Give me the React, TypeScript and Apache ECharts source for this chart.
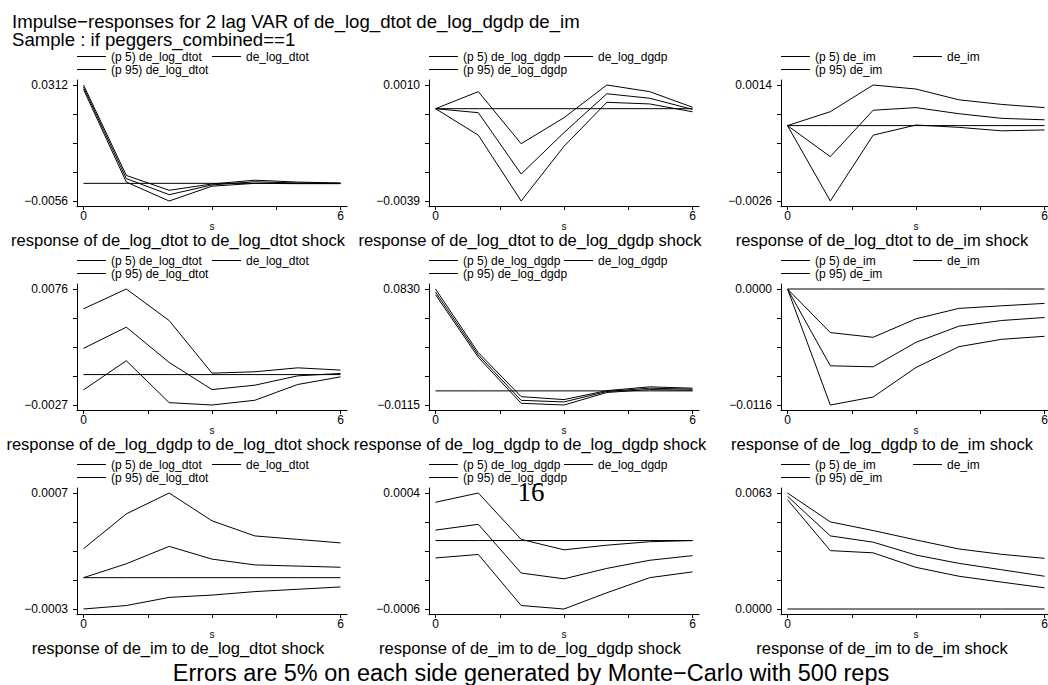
import React, { useEffect, useRef } from "react";
import * as echarts from "echarts";

// ---------- data ----------
const steps = [0, 1, 2, 3, 4, 5, 6];
const xTickValues = [0, 1.5, 3, 4.5, 6];
const xLabelValues = [0, 6];
const variables = ["de_log_dtot", "de_log_dgdp", "de_im"];
const zeroLine = [0, 0, 0, 0, 0, 0, 0];

// response of de_log_dtot to de_log_dtot shock
const dtotDtotLo = [0.0298, 0.0004, -0.0056, -0.0009, 0.0, -0.0001, -0.0001];
const dtotDtotIrf = [0.0305, 0.0015, -0.0036, -0.0005, 0.0005, 0.0001, 0.0];
const dtotDtotHi = [0.0312, 0.0025, -0.0022, -0.0002, 0.001, 0.0004, 0.0001];
// response of de_log_dtot to de_log_dgdp shock
const dtotDgdpLo = [0, -0.00112, -0.0039, -0.00159, 0.00027, 0.0002, -0.00013];
const dtotDgdpIrf = [0, -0.00017, -0.00276, -0.00101, 0.00063, 0.00044, -0.00003];
const dtotDgdpHi = [0, 0.00072, -0.00148, -0.00038, 0.001, 0.00072, 0.00006];
// response of de_log_dtot to de_im shock
const dtotImLo = [0, -0.0026, -0.00033, 0.00002, -0.00006, -0.00018, -0.00015];
const dtotImIrf = [0, -0.00107, 0.00053, 0.00062, 0.00041, 0.00025, 0.0002];
const dtotImHi = [0, 0.00048, 0.0014, 0.00126, 0.00089, 0.00073, 0.00062];
// response of de_log_dgdp to de_log_dtot shock
const dgdpDtotLo = [-0.00136, 0.00123, -0.00249, -0.0027, -0.00228, -0.00088, -0.0002];
const dgdpDtotIrf = [0.00233, 0.00421, 0.00108, -0.00133, -0.00094, -0.00011, 0.0001];
const dgdpDtotHi = [0.00584, 0.0076, 0.0048, 0.00013, 0.00025, 0.0006, 0.0004];
// response of de_log_dgdp to de_log_dgdp shock
const dgdpDgdpLo = [0.0784, 0.0273, -0.0101, -0.0115, -0.0013, 0.0011, 0.0005];
const dgdpDgdpIrf = [0.0805, 0.0292, -0.0077, -0.009, -0.0005, 0.0022, 0.0014];
const dgdpDgdpHi = [0.083, 0.0311, -0.0047, -0.0071, 0.0002, 0.0033, 0.0022];
// response of de_log_dgdp to de_im shock
const dgdpImLo = [0, -0.0116, -0.0108, -0.00785, -0.00577, -0.00503, -0.00473];
const dgdpImIrf = [0, -0.00768, -0.00778, -0.00533, -0.00372, -0.00315, -0.00285];
const dgdpImHi = [0, -0.00436, -0.00483, -0.00298, -0.00194, -0.00168, -0.00144];
// response of de_im to de_log_dtot shock
const imDtotLo = [-0.00027, -0.00024, -0.00017, -0.00015, -0.00012, -0.0001, -0.00008];
const imDtotIrf = [0, 0.00012, 0.00027, 0.00016, 0.00011, 0.0001, 0.00009];
const imDtotHi = [0.00025, 0.00055, 0.00073, 0.00049, 0.00036, 0.00033, 0.0003];
// response of de_im to de_log_dgdp shock
const imDgdpLo = [-0.00015, -0.00012, -0.00056, -0.00059, -0.00045, -0.00032, -0.00027];
const imDgdpIrf = [0.00009, 0.00014, -0.00028, -0.00033, -0.00024, -0.00017, -0.00013];
const imDgdpHi = [0.00033, 0.00041, 0.00001, -0.00008, -0.00004, -0.00001, 0];
// response of de_im to de_im shock
const imImLo = [0.00594, 0.00317, 0.00305, 0.00226, 0.00178, 0.00146, 0.00115];
const imImIrf = [0.00612, 0.00397, 0.00363, 0.00293, 0.00248, 0.00213, 0.00178];
const imImHi = [0.0063, 0.00473, 0.00426, 0.00375, 0.00326, 0.00297, 0.00275];

const panelData = [
  [dtotDtotLo, dtotDtotIrf, dtotDtotHi],
  [dtotDgdpLo, dtotDgdpIrf, dtotDgdpHi],
  [dtotImLo, dtotImIrf, dtotImHi],
  [dgdpDtotLo, dgdpDtotIrf, dgdpDtotHi],
  [dgdpDgdpLo, dgdpDgdpIrf, dgdpDgdpHi],
  [dgdpImLo, dgdpImIrf, dgdpImHi],
  [imDtotLo, imDtotIrf, imDtotHi],
  [imDgdpLo, imDgdpIrf, imDgdpHi],
  [imImLo, imImIrf, imImHi],
];

const titleLines = [
  "Impulse\u2212responses for 2 lag VAR of de_log_dtot de_log_dgdp de_im",
  "Sample : if peggers_combined==1",
];
const footerText = "Errors are 5% on each side generated by Monte\u2212Carlo with 500 reps";
const pageNumber = "16";

// ---------- layout ----------
const FONT = '"Liberation Sans", Arial, Helvetica, sans-serif';
const colLeft = [77, 429, 781];
const rowTop = [80, 284, 488];
const gridW = 270;
const gridH = 126;
const padX = 6.5;
const padY = 5;
const legendCol2 = [212, 564, 913];
const legendRowY = [56.5, 69.5];
const rowStep = 204;
const colCenters = [178, 530, 882];

const fmt = (v: number) => v.toFixed(4).replace("-", "\u2212");

function buildOption() {
  const grids: any[] = [];
  const xAxes: any[] = [];
  const yAxes: any[] = [];
  const series: any[] = [];
  const legends: any[] = [];
  const graphics: any[] = [];

  for (let r = 0; r < 3; r++) {
    for (let c = 0; c < 3; c++) {
      const i = r * 3 + c;
      const [lo, irf, hi] = panelData[i];
      const all = [...lo, ...irf, ...hi, 0];
      const yMin = Math.min(...all);
      const yMax = Math.max(...all);
      const dataW = gridW - 2 * padX;
      const dataH = gridH - 2 * padY;
      const xp = (padX * 6) / dataW;
      const yp = ((yMax - yMin) * padY) / dataH;

      grids.push({
        left: colLeft[c],
        top: rowTop[r],
        width: gridW,
        height: gridH,
        containLabel: false,
        outerBoundsMode: "none",
        show: false,
      });
      xAxes.push({
        type: "value",
        gridIndex: i,
        min: -xp,
        max: 6 + xp,
        axisLine: { show: true, onZero: false, lineStyle: { color: "#000", width: 1 } },
        axisTick: { show: true, length: 4, customValues: xTickValues, lineStyle: { color: "#000", width: 1 } },
        axisLabel: {
          customValues: xLabelValues,
          margin: 4,
          fontSize: 12,
          color: "#000",
          fontFamily: FONT,
        },
        splitLine: { show: false },
        name: "s",
        nameLocation: "middle",
        nameGap: 15,
        nameMoveOverlap: false,
        nameTextStyle: { fontSize: 10, lineHeight: 10, color: "#000", fontFamily: FONT },
      });
      const yTicks = [0, 1, 2, 3, 4].map((k) => yMin + ((yMax - yMin) * k) / 4);
      yAxes.push({
        type: "value",
        gridIndex: i,
        min: yMin - yp,
        max: yMax + yp,
        axisLine: { show: true, onZero: false, lineStyle: { color: "#000", width: 1 } },
        axisTick: { show: true, length: 4, customValues: yTicks, lineStyle: { color: "#000", width: 1 } },
        axisLabel: {
          customValues: [yMin, yMax],
          formatter: (v: number) => fmt(v),
          margin: 9,
          fontSize: 12,
          color: "#000",
          fontFamily: FONT,
        },
        splitLine: { show: false },
      });

      const names = [`(p 5) ${variables[c]}`, variables[c], `(p 95) ${variables[c]}`];
      [lo, irf, hi].forEach((arr, k) => {
        series.push({
          type: "line",
          name: names[k],
          xAxisIndex: i,
          yAxisIndex: i,
          data: steps.map((s, j) => [s, arr[j]]),
          symbol: "none",
          color: "#000",
          itemStyle: { color: "#000" },
          lineStyle: { color: "#000", width: 1 },
          silent: true,
        });
      });
      series.push({
        type: "line",
        name: "zero",
        xAxisIndex: i,
        yAxisIndex: i,
        data: steps.map((s, j) => [s, zeroLine[j]]),
        symbol: "none",
        color: "#000",
        lineStyle: { color: "#000", width: 1 },
        silent: true,
        z: 1,
      });

      const legendPos = [
        { name: names[0], left: colLeft[c], y: legendRowY[0] },
        { name: names[1], left: legendCol2[c], y: legendRowY[0] },
        { name: names[2], left: colLeft[c], y: legendRowY[1] },
      ];
      legendPos.forEach((lp) => {
        legends.push({
          data: [lp.name],
          left: lp.left,
          top: lp.y + rowStep * r - 6,
          orient: "horizontal",
          padding: 0,
          icon: "rect",
          itemWidth: 29,
          itemHeight: 1,
          selectedMode: false,
          textStyle: { fontSize: 12, lineHeight: 12, color: "#000", fontFamily: FONT },
        });
      });

      graphics.push({
        type: "text",
        x: colCenters[c],
        y: 239.5 + rowStep * r,
        style: {
          text: `response of ${variables[r]} to ${variables[c]} shock`,
          fontSize: 16.5,
          lineHeight: 14,
          fontFamily: FONT,
          fill: "#000",
          align: "center",
          verticalAlign: "middle",
        },
      });
    }
  }

  graphics.push({
    type: "text",
    x: 12,
    y: 12,
    style: {
      text: titleLines.join("\n"),
      fontSize: 18.6,
      lineHeight: 18,
      fontFamily: FONT,
      fill: "#000",
      align: "left",
      verticalAlign: "top",
    },
  });
  graphics.push({
    type: "text",
    x: 531,
    y: 673,
    style: { text: footerText, fontSize: 23.5, lineHeight: 20, fontFamily: FONT, fill: "#000", align: "center", verticalAlign: "middle" },
  });
  graphics.push({
    type: "text",
    x: 531,
    y: 492,
    z: 100,
    style: {
      text: pageNumber,
      fontSize: 27,
      lineHeight: 18,
      fontFamily: '"Liberation Serif", "DejaVu Serif", serif',
      fill: "#000",
      align: "center",
      verticalAlign: "middle",
    },
  });

  return {
    animation: false,
    backgroundColor: "#fff",
    grid: grids,
    xAxis: xAxes,
    yAxis: yAxes,
    legend: legends,
    series,
    graphic: graphics,
  };
}

export default function App() {
  const ref = useRef<HTMLDivElement>(null);
  useEffect(() => {
    if (!ref.current) return;
    const chart = echarts.init(ref.current, null, { renderer: "svg" });
    chart.setOption(buildOption() as any);
    return () => chart.dispose();
  }, []);
  return (
    <div
      ref={ref}
      style={{ position: "fixed", left: 0, top: 0, width: 1048, height: 685, background: "#fff" }}
    />
  );
}
